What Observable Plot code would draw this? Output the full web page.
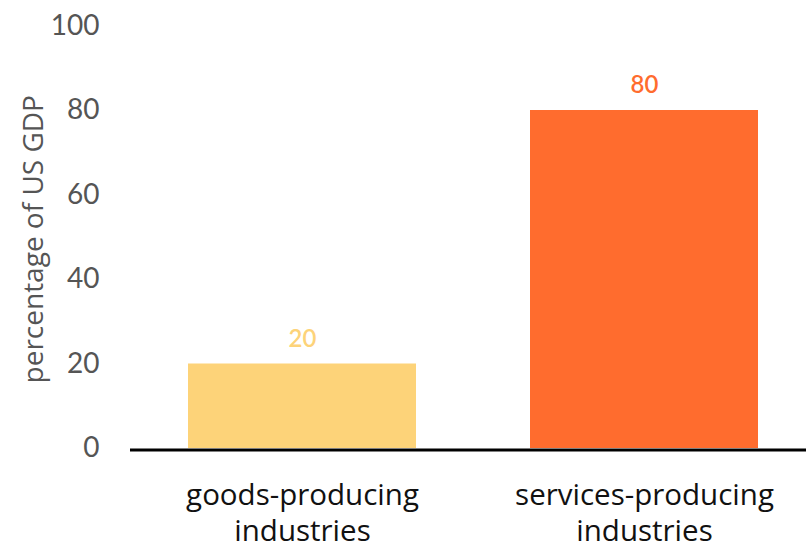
<!DOCTYPE html>
<html>
<head>
<meta charset="utf-8">
<script src="https://cdn.jsdelivr.net/npm/d3@7"></script>
<script src="https://cdn.jsdelivr.net/npm/@observablehq/plot@0.6"></script>
<style>
  html, body { margin: 0; padding: 0; background: #fff; }
  #chart svg { display: block; }
</style>
</head>
<body>
<div id="chart"></div>
<script>
const categories = ["goods-producing", "services-producing"];
const categoryLabels = ["goods-producing\nindustries", "services-producing\nindustries"];
const values = [20, 80];
const colors = ["#fdd379", "#ff6c2e"];
const yTicks = [0, 20, 40, 60, 80, 100];
const yLabel = "percentage of US GDP";

const data = categories.map((c, i) => ({category: c, value: values[i], color: colors[i], label: categoryLabels[i]}));
const FONT = "Lato, 'Open Sans', sans-serif";
const FONT2 = "'Open Sans', Lato, sans-serif";

const chart = Plot.plot({
  width: 806,
  height: 546,
  marginTop: 25.5,
  marginBottom: 98,
  marginLeft: 130,
  marginRight: 0,
  style: {fontFamily: FONT, background: "#fff"},
  x: {domain: categories, paddingInner: 0.333, paddingOuter: 0.152, align: 0.546, axis: null},
  y: {domain: [0, 100]},
  marks: [
    Plot.barY(data, {x: "category", y: "value", fill: "color"}),
    Plot.ruleY([0], {stroke: "#000", strokeWidth: 3, dy: 1.5}),
    Plot.text(data, {x: "category", y: "value", text: d => String(d.value), fill: "color",
      fontSize: 24, fontWeight: 600, dy: -25, lineAnchor: "middle"}),
    Plot.axisY({ticks: yTicks, tickSize: 0, tickPadding: 31, fontSize: 28, color: "#555", label: null}),
    Plot.text([yLabel], {frameAnchor: "left", textAnchor: "middle", rotate: -90, dx: -96, dy: 2, fontSize: 28,
      fontFamily: FONT2, fill: "#555", lineAnchor: "middle"}),
    Plot.text(data, {x: "category", y: () => 0, text: "label", lineAnchor: "top", dy: 32,
      fontSize: 29.5, lineHeight: 1.19, fill: "#111", fontFamily: FONT2})
  ]
});

document.getElementById("chart").appendChild(chart);
</script>
</body>
</html>
